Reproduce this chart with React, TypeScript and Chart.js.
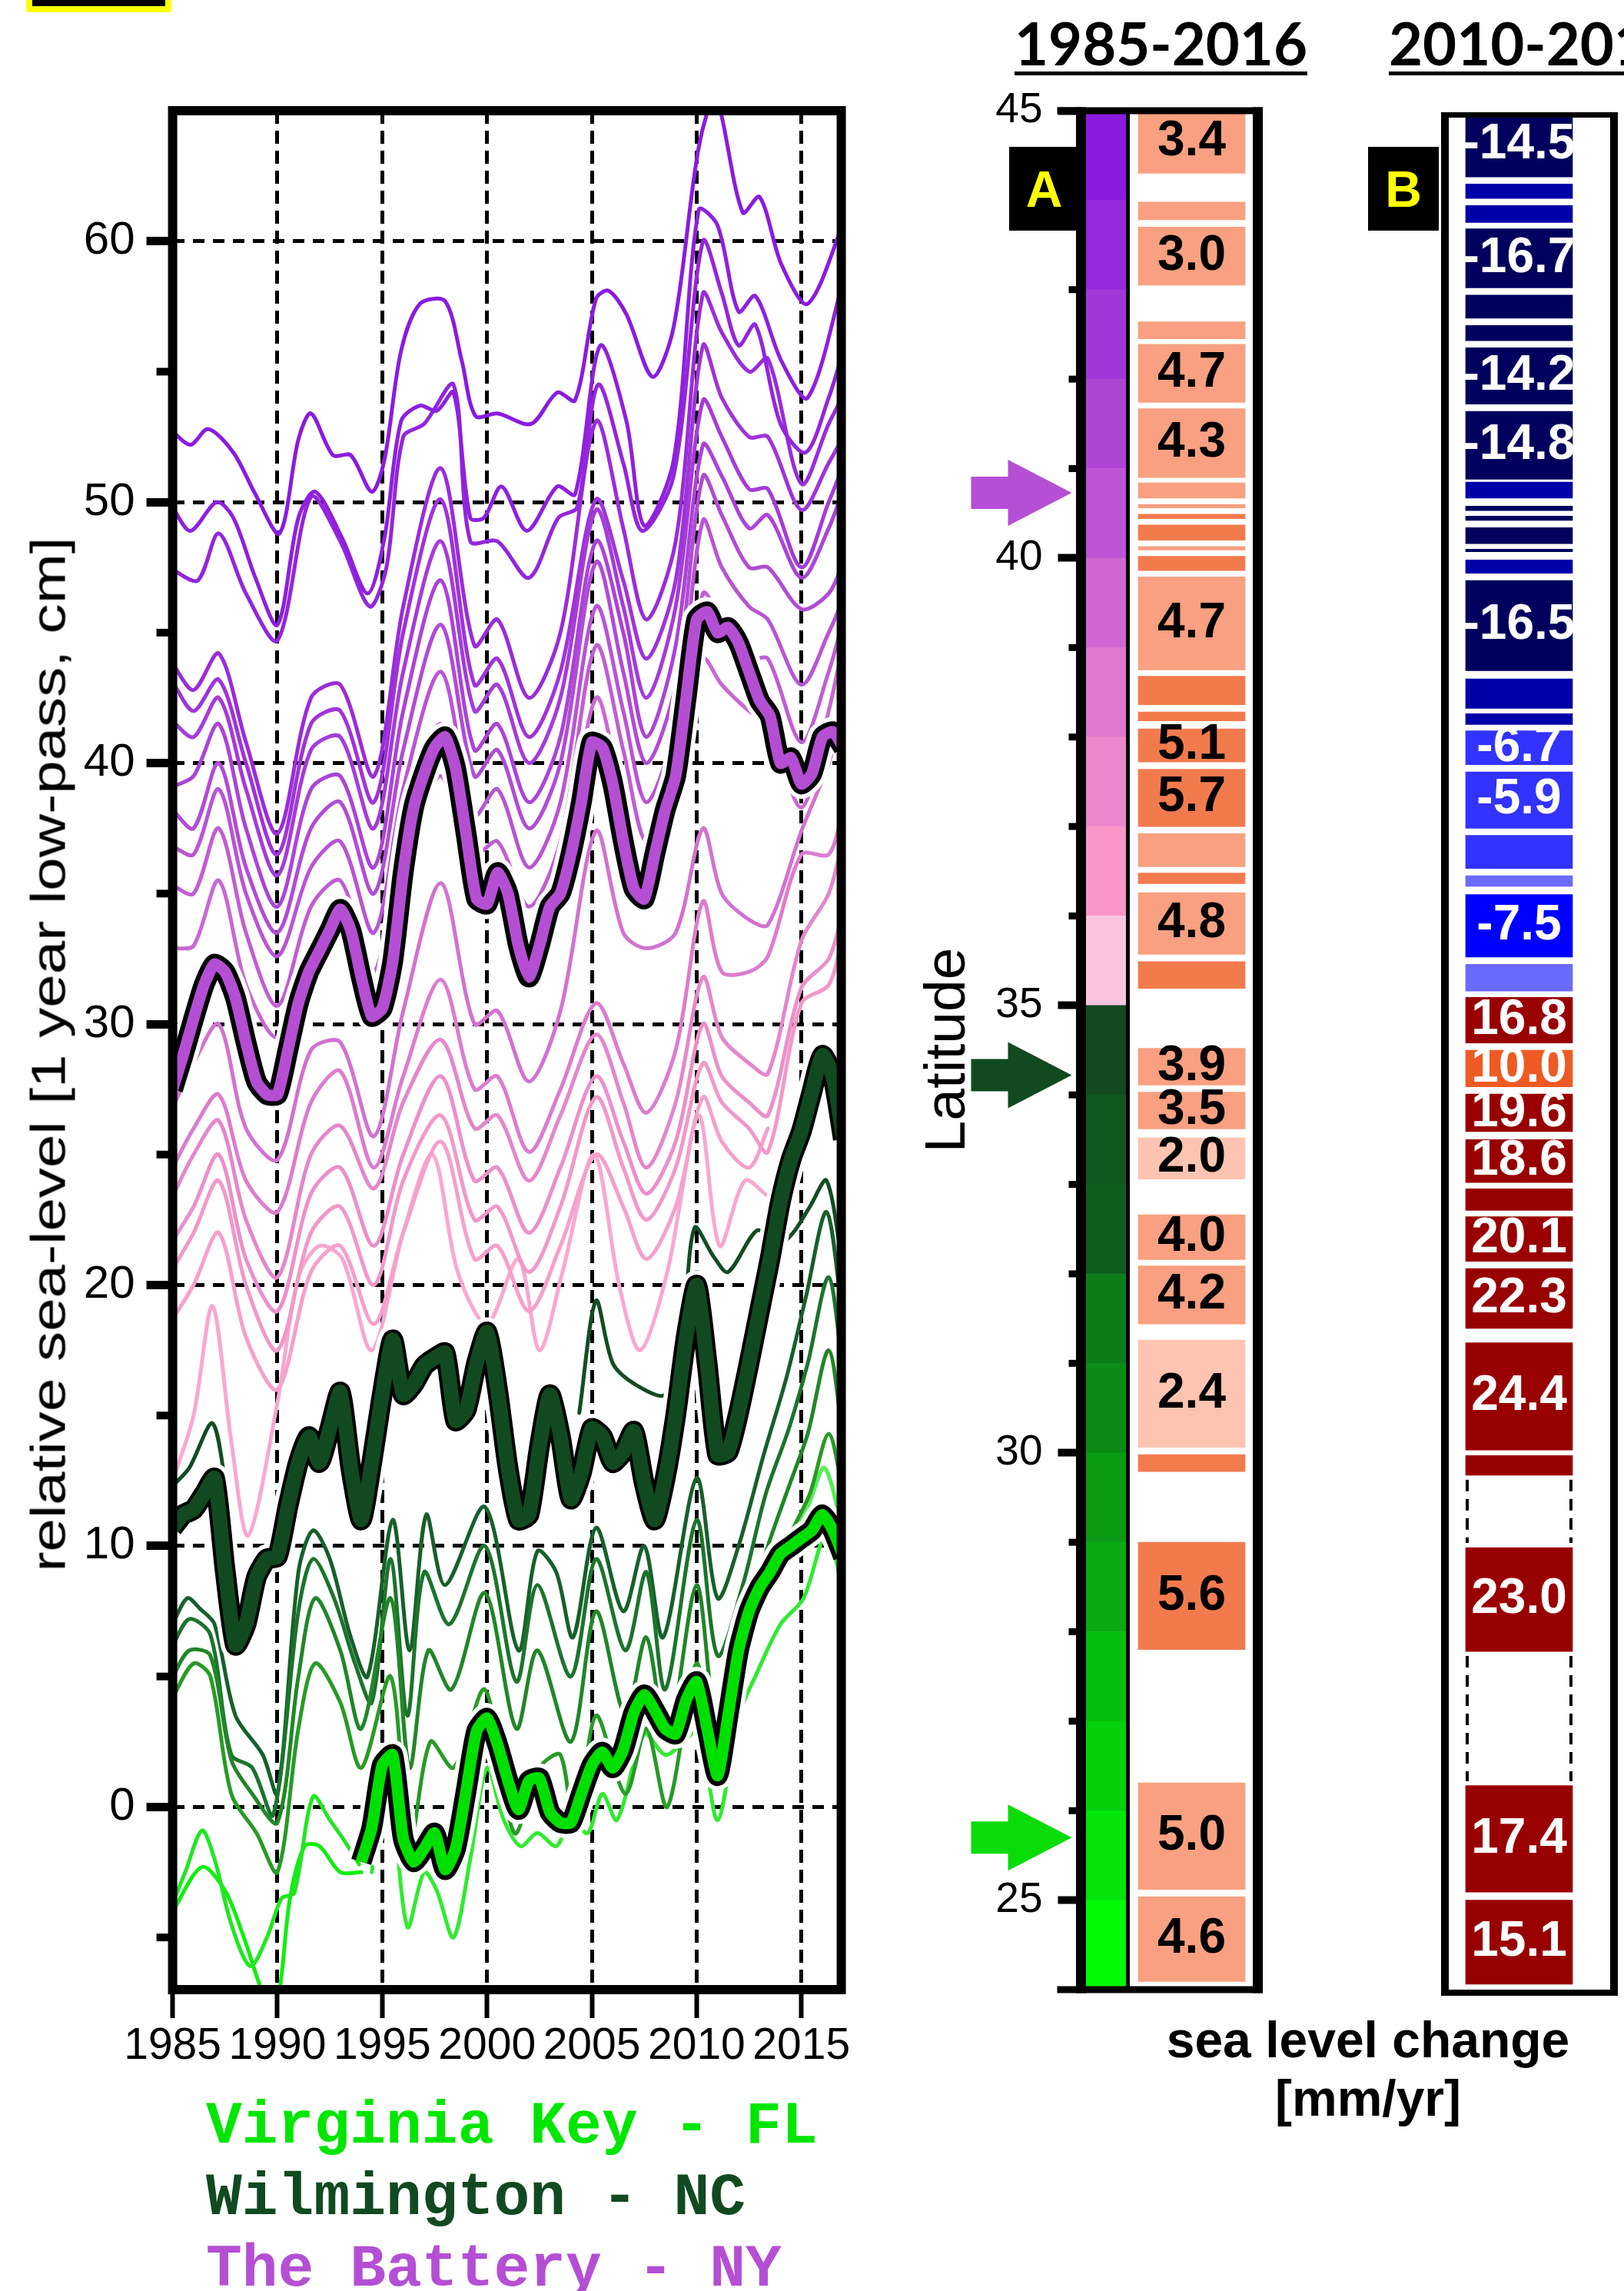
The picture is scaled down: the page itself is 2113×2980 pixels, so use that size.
import React, { useEffect, useRef } from 'react';
import { Chart, registerables } from 'chart.js';

Chart.register(...registerables);

const FONT = '"Liberation Sans", Arial, Helvetica, sans-serif';
Chart.defaults.font.family = FONT;

/* ================= Left panel: relative sea level [1 year low-pass, cm] ================= */
const xMin = 1985;
const xMax = 2016.9;
const yMin = -7;
const yMax = 65;
const xTickYears = [1985, 1990, 1995, 2000, 2005, 2010, 2015];
const yTickValues = [0, 10, 20, 30, 40, 50, 60];
const yMinorTicks = [-5, 5, 15, 25, 35, 45, 55];

const halfYears = [1985, 1985.5, 1986, 1986.5, 1987, 1987.5, 1988, 1988.5, 1989, 1989.5,
  1990, 1990.5, 1991, 1991.5, 1992, 1992.5, 1993, 1993.5, 1994, 1994.5,
  1995, 1995.5, 1996, 1996.5, 1997, 1997.5, 1998, 1998.5, 1999, 1999.5,
  2000, 2000.5, 2001, 2001.5, 2002, 2002.5, 2003, 2003.5, 2004, 2004.5,
  2005, 2005.5, 2006, 2006.5, 2007, 2007.5, 2008, 2008.5, 2009, 2009.5,
  2010, 2010.5, 2011, 2011.5, 2012, 2012.5, 2013, 2013.5, 2014, 2014.5,
  2015, 2015.5, 2016, 2016.5, 2017];

const batteryNY = [27.5, 28.8, 30.2, 31.5, 32.3, 32.0, 31.0, 29.3, 27.8, 27.3,
  27.3, 29.0, 30.8, 32.0, 32.8, 33.6, 34.4, 33.6, 31.8, 30.3,
  30.6, 32.4, 35.8, 38.3, 39.6, 40.6, 41.0, 39.8, 37.3, 34.8,
  34.6, 35.8, 35.0, 33.0, 31.8, 33.0, 34.5, 35.0, 36.5, 38.5,
  40.8, 40.6, 39.2, 37.0, 35.2, 34.8, 36.5, 38.2, 39.5, 42.5,
  45.5, 45.8, 45.0, 45.2, 44.6, 43.5, 42.4, 41.8, 40.0, 40.2,
  39.2, 39.6, 41.0, 41.2, 40.6];

const wilmingtonNC = [10.7, 11.2, 11.4, 12.0, 12.6, 9.1, 6.2, 7.0, 8.8, 9.5,
  9.6, 11.5, 13.2, 14.2, 13.2, 14.5, 15.9, 13.0, 11.0, 13.2,
  15.8, 17.9, 15.8, 16.2, 16.9, 17.2, 17.4, 14.8, 15.2, 17.0,
  18.2, 16.0, 13.0, 11.0, 11.2, 13.8, 15.8, 14.2, 11.8, 12.8,
  14.5, 14.2, 13.2, 13.6, 14.4, 12.4, 11.0, 12.6, 15.0, 18.0,
  20.0, 17.0, 13.5, 13.6, 15.1, 17.0, 19.0, 21.0, 23.2, 24.8,
  25.9, 27.4, 28.8, 28.0, 25.6];

const virginiaKeyFL = [null, null, null, null, null, null, null, null, null, null,
  null, null, null, null, null, null, null, null, -2.1, -0.8,
  1.6, 2.0, -1.2, -2.1, -1.6, -1.0, -2.4, -1.6, 0.6, 2.9,
  3.4, 2.4, 1.0, -0.1, 1.0, 1.1, -0.2, -0.6, -0.6, 0.5,
  1.6, 2.1, 1.5, 2.2, 3.6, 4.3, 3.7, 3.0, 2.8, 4.1,
  4.8, 3.0, 1.2, 3.5, 6.0, 7.5, 8.4, 9.0, 9.7, 10.0,
  10.3, 10.6, 11.2, 10.6, 9.6];

// other stations (thin lines), northern -> southern
const p1 = [[1985, 52.7], [1985.85, 52.2], [1986.7, 52.8], [1987.9, 51.9], [1988.95, 50.3], [1990.1, 48.8], [1991, 52.4], [1991.6, 53.4], [1992.65, 51.8], [1993.5, 51.8], [1994.5, 50.4], [1995.1, 51.6], [1995.9, 55.8], [1996.8, 57.6], [1998, 57.7], [1998.8, 55.4], [1999.45, 53.3], [2000.5, 53.4], [2002.1, 53.0], [2003.35, 54.2], [2004.2, 53.9], [2005.2, 57.8], [2005.8, 58.1], [2006.65, 57.2], [2007.9, 54.8], [2008.9, 56.7], [2010.1, 63.6], [2010.9, 65.5], [2012.2, 61.1], [2013, 61.7], [2014.05, 59.1], [2015.3, 57.6], [2017.1, 60.9]];
const p2 = [[1985, 49.8], [1985.85, 48.9], [1987.1, 50.0], [1987.9, 49.4], [1988.95, 47.1], [1990, 45.3], [1991, 49.4], [1991.8, 50.4], [1993.1, 48.6], [1994.3, 46.5], [1995.1, 48.6], [1995.9, 53.1], [1996.8, 53.7], [1997.6, 53.5], [1998.4, 54.2], [1999.2, 49.4], [1999.85, 49.4], [2000.7, 50.6], [2001.9, 48.9], [2003.35, 50.6], [2004.2, 50.3], [2005.4, 56.0], [2006.65, 53.1], [2007.5, 49.1], [2008.9, 51.6], [2010.1, 61.2], [2011, 60.6], [2012, 57.3], [2012.8, 57.9], [2014.05, 55.4], [2015.3, 54.0], [2017.1, 58.8]];
const p3 = [[1985, 47.4], [1986.2, 47.0], [1987.2, 48.8], [1988.5, 46.5], [1990, 44.7], [1991.6, 50.2], [1993, 48.5], [1994.4, 46.0], [1995.2, 47.5], [1996, 52.5], [1997, 53.0], [1998.4, 54.5], [1999.2, 48.5], [2000.5, 48.5], [2002, 47.1], [2003.4, 49.4], [2004.3, 49.8], [2005.3, 54.5], [2006.5, 51.5], [2007.4, 48.9], [2008.9, 51.0], [2010.3, 60.0], [2011.2, 58.0], [2012, 56.0], [2012.8, 56.8], [2014, 53.0], [2015.2, 51.9], [2016.3, 54.0], [2017, 55.8]];

const keyYears = [1985, 1986, 1987.2, 1988.5, 1990, 1991.6, 1993, 1994.6, 1996, 1997.8, 1999.4, 2000.5, 2002, 2003.5, 2005.2, 2006.5, 2007.6, 2009, 2010.3, 2011.2, 2012.5, 2013.4, 2015, 2016.3, 2017];
const l4 = [43.8, 42.8, 44.2, 40.8, 37.3, 42.5, 43.0, 39.5, 46.0, 51.3, 44.5, 45.5, 42.5, 45.0, 53.1, 49.0, 45.5, 48.5, 58.0, 56.5, 55.0, 55.5, 50.7, 53.0, 54.1];
const l5 = [43.1, 42.0, 43.2, 40.0, 36.5, 41.5, 42.0, 38.5, 45.0, 50.1, 43.0, 44.0, 41.0, 43.5, 50.1, 47.0, 44.0, 47.0, 56.0, 54.0, 52.5, 52.5, 49.7, 51.5, 52.5];
const l6 = [41.6, 41.0, 42.5, 39.0, 35.7, 40.5, 41.0, 37.5, 43.5, 48.5, 42.0, 43.0, 40.0, 42.5, 49.7, 46.0, 42.5, 46.0, 53.9, 52.5, 50.5, 50.5, 47.5, 50.0, 51.4];
const l7 = [39.1, 39.5, 41.5, 37.5, 34.5, 39.0, 39.5, 36.0, 42.0, 47.0, 40.5, 41.5, 38.5, 41.0, 48.5, 45.0, 41.0, 44.5, 52.2, 51.0, 49.0, 49.5, 47.1, 49.0, 50.5];
const l8 = [38.2, 37.5, 40.0, 36.0, 33.5, 37.5, 38.5, 35.0, 40.5, 45.3, 39.5, 40.5, 37.5, 40.0, 47.7, 43.5, 40.0, 43.0, 51.0, 49.5, 47.5, 47.5, 45.9, 46.5, 47.7];
const l9 = [36.8, 36.5, 39.0, 35.0, 32.6, 36.0, 37.0, 33.5, 39.0, 43.5, 38.0, 39.0, 36.0, 38.5, 46.0, 42.0, 38.5, 41.5, 49.3, 47.5, 46.0, 45.5, 43.0, 45.0, 46.3];
const l10 = [35.3, 35.0, 37.5, 33.5, 30.7, 34.5, 35.5, 32.0, 37.5, 41.5, 36.5, 37.0, 34.5, 37.0, 44.5, 40.5, 37.0, 40.0, 46.5, 45.5, 44.0, 44.0, 40.8, 43.5, 45.5];
const l11 = [32.9, 33.0, 35.5, 31.5, 29.5, 33.0, 34.0, 30.5, 35.5, 39.5, 34.5, 35.0, 32.0, 35.0, 42.5, 38.5, 35.5, 38.5, 44.0, 43.0, 42.0, 41.5, 38.3, 42.0, 44.6];
const l12 = [26.8, 28.5, 30.0, 26.0, 24.8, 29.0, 29.3, 25.7, 30.5, 35.4, 30.0, 30.5, 27.8, 30.5, 37.4, 33.5, 32.9, 33.5, 37.5, 35.0, 34.0, 33.8, 37.4, 40.0, 42.2];
const l13 = [24.5, 26.0, 27.3, 24.0, 22.8, 27.0, 28.2, 24.5, 28.0, 31.7, 27.5, 28.0, 25.1, 27.5, 30.8, 28.5, 26.6, 29.0, 34.7, 32.0, 32.0, 32.6, 36.5, 36.5, 38.3];
const l14 = [23.4, 25.0, 26.3, 22.5, 20.3, 25.0, 26.1, 23.7, 27.0, 29.4, 26.0, 26.5, 24.0, 26.5, 29.6, 27.0, 24.5, 27.0, 31.8, 29.5, 28.5, 28.1, 33.2, 35.0, 37.1];
const l15 = [21.7, 23.0, 25.0, 21.0, 19.0, 23.5, 24.5, 21.5, 25.0, 28.0, 24.0, 24.5, 22.0, 24.5, 28.0, 25.5, 23.5, 25.5, 30.0, 28.0, 27.0, 26.5, 31.4, 32.5, 34.4];
const l16 = [20.6, 22.0, 24.0, 20.0, 17.5, 22.0, 23.0, 20.0, 24.0, 26.5, 22.5, 23.0, 20.5, 23.0, 27.2, 24.5, 22.5, 24.5, 28.5, 27.0, 26.0, 25.1, 30.8, 31.5, 33.5];
const l17 = [18.7, 20.0, 22.0, 18.0, 16.0, 20.5, 21.5, 18.5, 22.0, 25.5, 21.0, 21.5, 19.0, 21.5, 25.0, 23.0, 21.0, 23.0, 27.2, 25.5, 24.5, 26.0, null, null, null];
const l18 = [[1985, 12.5], [1986, 15.0], [1986.9, 19.2], [1987.8, 14.0], [1988.6, 10.4], [1990, 15.5], [1991, 20.3], [1992, 21.5], [1993.1, 21.0], [1994.5, 17.5], [1996, 22.0], [1997.4, 25.0], [1998.6, 20.5], [2000, 18.5], [2001.5, 21.0], [2002.5, 17.5], [2003.6, 20.5], [2005.1, 25.0], [2006.3, 20.0], [2007.3, 17.5], [2008.6, 20.5], [2010.1, 26.5], [2011.1, 21.5], [2012.3, 24.0], [2013.4, 23.4]];

const g1 = [[1985, 12.3], [1985.8, 13.0], [1986.9, 14.7], [1987.6, 12.0], [1988, null], [2004.4, 15.1], [2005.2, 19.4], [2006, 17.0], [2007.05, 16.2], [2008.5, 15.8], [2009.3, 18.0], [2009.9, 22.2], [2010.8, 21.1], [2011.5, 20.5], [2012.9, 22.1], [2013.8, 21.5], [2014.6, 22.0], [2015.4, 23.0], [2016.2, 24.0], [2017, 20.5]];
const g2 = [[1985, 7.0], [1985.7, 8.0], [1986.3, 7.6], [1987, 7.0], [1988, 3.5], [1989.3, 2.0], [1990, 0.5], [1991, 9.0], [1991.7, 10.6], [1992.5, 9.5], [1993.5, 6.5], [1994.3, 5.0], [1995.5, 11.0], [1996.3, 6.0], [1997.1, 11.2], [1998, 8.5], [1999.9, 11.5], [2001.5, 6.0], [2002.4, 9.8], [2003.3, 9.0], [2004.1, 6.5], [2005.2, 10.7], [2006.5, 7.5], [2007.5, 10.0], [2008.4, 6.5], [2010, 12.6], [2011, 8.0], [2012, 10.0], [2013.2, 13.5], [2014.3, 16.5], [2015.2, 19.5], [2016.2, 22.8], [2017, 18.5]];
const g3 = [[1985, 6.2], [1985.8, 7.2], [1986.8, 6.6], [1987.8, 2.0], [1988.8, 1.5], [1989.8, -0.3], [1991, 7.5], [1991.7, 9.5], [1992.7, 8.0], [1993.7, 5.5], [1994.5, 4.0], [1995.4, 9.5], [1996.2, 3.5], [1997, 9.0], [1998.2, 7.0], [1999.9, 10.0], [2001.4, 4.8], [2002.4, 8.5], [2004, 5.0], [2005.2, 9.5], [2006.6, 6.0], [2007.6, 9.0], [2008.5, 4.5], [2010, 11.0], [2011, 5.8], [2012.2, 8.5], [2013.3, 12.0], [2014.4, 14.5], [2015.3, 17.0], [2016.3, 20.3], [2017, 16.5]];
const g4 = [[1985, 5.0], [1985.8, 6.0], [1986.8, 5.8], [1987.8, 1.8], [1988.8, 0.5], [1990, -0.6], [1991, 5.0], [1991.8, 8.0], [1993, 6.0], [1994, 3.0], [1995.4, 8.0], [1996.3, 1.5], [1997.2, 6.0], [1998.3, 4.5], [1999.9, 8.2], [2001.4, 3.0], [2002.4, 6.0], [2004, 2.5], [2005.2, 7.5], [2006.6, 3.5], [2007.6, 6.5], [2008.6, 2.5], [2010, 8.5], [2011, 3.0], [2012.3, 7.0], [2013.4, 10.0], [2014.5, 12.5], [2015.3, 14.3], [2016.3, 17.5], [2017, 14.0]];
const g5 = [[1985, 4.2], [1986, 5.5], [1986.8, 5.0], [1987.8, 0.5], [1989, -1.0], [1990, -2.5], [1991, 3.0], [1991.8, 5.5], [1993, 4.0], [1994, 1.5], [1995.4, 5.0], [1996.3, -1.5], [1997.3, 2.5], [1998.4, 1.5], [1999.9, 4.5], [2001.3, -1.0], [2002.5, 1.5], [2003.5, 2.0], [2004.2, -1.0], [2005.2, 3.5], [2006.6, 0.5], [2007.6, 3.0], [2008.6, 0.0], [2010, 5.5], [2011, 1.0], [2012.3, 5.5], [2013.5, 8.5], [2014.5, 10.5], [2015.4, 12.0], [2016.3, 14.3], [2017, 12.0]];
const lg1 = [[1985, -3.7], [1985.6, -2.5], [1986.4, -0.9], [1987, -2.0], [1987.8, -4.5], [1988.7, -6.1], [1989.5, -5.0], [1990.2, -3.5], [1990.8, -3.3], [1991.7, 0.4], [1992.5, -0.5], [1993.2, -1.3], [1993.9, -2.2]];
const lg2 = [[1985, -4.0], [1986.4, -2.3], [1987.5, -3.2], [1988.4, -5.0], [1989.5, -7.5], [1990, -7.5], [1990.6, -3.5], [1991.3, -1.5], [1992, -1.5], [1993, -2.5], [1994, -2.5]];
const lg3 = [[1994.5, -2.5], [1995.3, 1.0], [1996.2, -4.6], [1997, -2.5], [1997.6, -3.2], [1998.4, -5.0], [1999.2, -2.0], [2000, 1.5], [2000.8, -0.5], [2001.6, -1.5], [2002.4, -1.0], [2003.3, -1.5], [2004, -0.5], [2004.8, -1.0], [2005.5, 0.5], [2006.2, -0.5], [2007.5, 2.8], [2008.5, 2.0], [2009.4, 2.5], [2010.1, 3.0], [2011, -0.5], [2012, 3.5], [2012.8, 5.0], [2014, 7.0], [2015.1, 8.0], [2016.2, 10.5], [2017, 8.2]];
const lg4 = [[2011.5, 4.0], [2012.5, 7.5], [2013.5, 9.5], [2014.5, 10.5], [2015.3, 11.5], [2016.1, 13.0], [2017, 10.5]];

/* ================= Panel A: 1985-2016 rates by latitude ================= */
const latMin = 24;
const latMax = 45;
const latTicks = [25, 30, 35, 40, 45];
const latMinorTicks = [26, 27, 28, 29, 31, 32, 33, 34, 36, 37, 38, 39, 41, 42, 43, 44];
const stripHi = [45, 44, 43, 42, 41, 40, 39, 38, 37, 36, 35, 34, 33, 32, 31, 30, 29, 28, 27, 26, 25];
const stripLo = [44, 43, 42, 41, 40, 39, 38, 37, 36, 35, 34, 33, 32, 31, 30, 29, 28, 27, 26, 25, 24];
const stripColors = ['#8A1BDD', '#9629DB', '#A236D8', '#AE44D6', '#BB53D4', '#CE67D4', '#DD77D0', '#EB87CB', '#F996C8', '#FAC4E1',
  '#114A20', '#0F561F', '#0E5E1E', '#0D7D19', '#0C8B17', '#0A9A14', '#08AA11', '#06BE0E', '#04D00C', '#02E40A', '#00FA06'];

const aLo = [44.30, 43.78, 43.05, 42.45, 41.74, 40.90, 40.67, 40.56, 40.44, 40.20, 40.09, 39.86, 38.75, 38.36, 38.18, 37.72, 37.00, 36.55, 36.36, 35.57, 35.19, 34.11, 33.62, 33.06, 32.16, 31.44, 30.06, 29.79, 27.80, 25.12, 24.09];
const aHi = [45.00, 43.98, 43.70, 42.64, 42.39, 41.67, 40.84, 40.60, 40.49, 40.37, 40.13, 40.02, 39.79, 38.68, 38.28, 38.09, 37.64, 36.92, 36.48, 36.26, 35.49, 34.52, 34.03, 33.52, 32.66, 32.09, 31.26, 29.98, 29.00, 26.31, 25.04];
const aLabels = ['3.4', '', '3.0', '', '4.7', '4.3', '', '', '', '', '', '', '4.7', '', '', '5.1', '5.7', '', '', '4.8', '', '3.9', '3.5', '2.0', '4.0', '4.2', '2.4', '', '5.6', '5.0', '4.6'];
const aShade = ['L', 'L', 'L', 'L', 'L', 'L', 'L', 'L', 'D', 'D', 'L', 'D', 'L', 'D', 'D', 'D', 'D', 'L', 'D', 'L', 'D', 'L', 'L', 'P', 'L', 'L', 'P', 'D', 'D', 'L', 'L'];
const shadeA = { L: '#F8A081', D: '#F27B4E', P: '#FDC4B1' };

const arrowLats = [40.73, 34.22, 25.7];
const arrowColors = ['#B54FD6', '#114A20', '#0ADC0A'];

/* ================= Panel B: 2010-2016 rates by latitude ================= */
const bLo = [44.26, 44.02, 43.75, 43.02, 42.68, 42.43, 41.72, 40.88, 40.67, 40.53, 40.42, 40.16, 40.07, 39.83, 38.74, 38.32, 38.14, 37.69, 36.98, 36.53, 36.33, 35.54, 35.16, 34.58, 34.09, 33.59, 33.02, 32.71, 32.14, 31.39, 30.03, 29.75, 27.78, 25.09, 24.06];
const bHi = [44.97, 44.18, 43.94, 43.68, 42.94, 42.60, 42.35, 41.64, 40.85, 40.58, 40.47, 40.34, 40.10, 39.98, 39.75, 38.65, 38.26, 38.07, 37.61, 36.90, 36.45, 36.24, 35.46, 35.09, 34.50, 34.01, 33.50, 32.95, 32.64, 32.06, 31.23, 29.97, 28.94, 26.28, 25.00];
const bLabels = ['-14.5', '', '', '-16.7', '', '', '-14.2', '-14.8', '', '', '', '', '', '', '-16.5', '', '', '-6.7', '-5.9', '', '', '-7.5', '', '16.8', '10.0', '19.6', '18.6', '', '20.1', '22.3', '24.4', '', '23.0', '17.4', '15.1'];
const bShade = ['N', 'M', 'M', 'N', 'N', 'N', 'N', 'N', 'M', 'N', 'N', 'N', 'N', 'M', 'N', 'M', 'M', 'B', 'B', 'B', 'LB', 'PB', 'LB', 'R', 'O', 'R', 'R', 'R', 'R', 'R', 'R', 'R', 'R', 'R', 'R'];
const shadeB = { N: '#00005E', M: '#0000A8', B: '#3333FF', LB: '#6A6AFF', PB: '#0000FF', R: '#990000', O: '#EE5A24' };
const bGapLo = [28.94, 26.28];
const bGapHi = [29.75, 27.78];

/* layout constants (column positions inside the latitude panels, 0..1 of plot width) */
const STRIP_X = 0.1413;
const RATE_X = 0.6261;
const B_X = 0.4386;

/* ================= helpers ================= */
const toPts = (arr) => arr.map(([x, y]) => ({ x, y }));
const onKeys = (vals) => keyYears.map((x, i) => ({ x, y: vals[i] }));

const thinLines = [
  { pts: toPts(p1), color: '#8A1BE0' },
  { pts: toPts(p2), color: '#8E20DE' },
  { pts: toPts(p3), color: '#9326DC' },
  { pts: onKeys(l4), color: '#992DDA' },
  { pts: onKeys(l5), color: '#9F34D9' },
  { pts: onKeys(l6), color: '#A53CD8' },
  { pts: onKeys(l7), color: '#AB44D7' },
  { pts: onKeys(l8), color: '#B14CD5' },
  { pts: onKeys(l9), color: '#B855D4' },
  { pts: onKeys(l10), color: '#C05ED3' },
  { pts: onKeys(l11), color: '#C868D2' },
  { pts: onKeys(l12), color: '#D272D0' },
  { pts: onKeys(l13), color: '#DC7CCE' },
  { pts: onKeys(l14), color: '#E486CC' },
  { pts: onKeys(l15), color: '#EC8FCA' },
  { pts: onKeys(l16), color: '#F298C8' },
  { pts: onKeys(l17), color: '#F6A0CA' },
  { pts: toPts(l18), color: '#F8A8D0' },
  { pts: toPts(g5), color: '#289A26' },
  { pts: toPts(g4), color: '#218628' },
  { pts: toPts(g3), color: '#1C742C' },
  { pts: toPts(g2), color: '#17602A' },
  { pts: toPts(g1), color: '#134D24' },
  { pts: toPts(lg1), color: '#22E622' },
  { pts: toPts(lg2), color: '#10EE10' },
  { pts: toPts(lg3), color: '#30EA30' },
  { pts: toPts(lg4), color: '#55EE55' },
];

const highlights = [
  { vals: batteryNY, color: '#B44FD4', inner: 15 },
  { vals: wilmingtonNC, color: '#114A20', inner: 19 },
  { vals: virginiaKeyFL, color: '#00E000', inner: 15 },
];

const leftPlugin = {
  id: 'leftFrame',
  afterDraw(chart) {
    const { ctx, chartArea: ca } = chart;
    const y = chart.scales.y;
    ctx.save();
    ctx.fillStyle = '#000';
    yMinorTicks.forEach((v) => {
      const py = y.getPixelForValue(v);
      ctx.fillRect(ca.left - 21, py - 5, 21, 10);
    });
    ctx.strokeStyle = '#000';
    ctx.lineWidth = 12;
    ctx.strokeRect(ca.left, ca.top, ca.right - ca.left, ca.bottom - ca.top);
    ctx.restore();
  },
};

function drawArrow(ctx, tipX, y, color) {
  ctx.fillStyle = color;
  ctx.beginPath();
  ctx.moveTo(tipX - 131, y - 21);
  ctx.lineTo(tipX - 83, y - 21);
  ctx.lineTo(tipX - 83, y - 43);
  ctx.lineTo(tipX, y);
  ctx.lineTo(tipX - 83, y + 43);
  ctx.lineTo(tipX - 83, y + 21);
  ctx.lineTo(tipX - 131, y + 21);
  ctx.closePath();
  ctx.fill();
}

const panelAPlugin = {
  id: 'panelA',
  afterDraw(chart) {
    const { ctx, chartArea: ca } = chart;
    const y = chart.scales.y;
    const strip = chart.getDatasetMeta(0).data[0];
    const sepX = strip.x + strip.width / 2 + 2.5;
    ctx.save();
    ctx.fillStyle = '#000';
    latMinorTicks.forEach((v) => {
      const py = y.getPixelForValue(v);
      ctx.fillRect(ca.left - 16, py - 4.5, 16, 9);
    });
    ctx.fillRect(ca.left - 6.5, ca.top - 4.5, 13, ca.bottom - ca.top + 9);
    ctx.fillRect(ca.right - 6.5, ca.top - 4.5, 13, ca.bottom - ca.top + 9);
    ctx.fillRect(ca.left - 31, ca.top - 4.5, ca.right - ca.left + 37.5, 9);
    ctx.fillRect(ca.left - 31, ca.bottom - 4.5, ca.right - ca.left + 37.5, 9);
    ctx.fillRect(sepX - 2.5, ca.top, 5, ca.bottom - ca.top);
    const meta = chart.getDatasetMeta(1);
    ctx.font = `bold 64px ${FONT}`;
    ctx.textAlign = 'center';
    ctx.textBaseline = 'middle';
    ctx.fillStyle = '#000';
    meta.data.forEach((el, i) => {
      if (aLabels[i]) ctx.fillText(aLabels[i], el.x, (el.y + el.base) / 2);
    });
    arrowLats.forEach((lat, i) => drawArrow(ctx, ca.left - 12, y.getPixelForValue(lat), arrowColors[i]));
    ctx.restore();
  },
};

const panelBPlugin = {
  id: 'panelB',
  afterDraw(chart) {
    const { ctx, chartArea: ca } = chart;
    const y = chart.scales.y;
    const meta = chart.getDatasetMeta(0);
    const el0 = meta.data[0];
    ctx.save();
    ctx.fillStyle = '#000';
    ctx.fillRect(ca.left - 5, ca.top + 2, 10, ca.bottom - ca.top + 5);
    ctx.fillRect(ca.right - 5, ca.top + 2, 10, ca.bottom - ca.top + 5);
    ctx.fillRect(ca.left - 5, ca.top + 2, ca.right - ca.left + 10, 7);
    ctx.fillRect(ca.left - 5, ca.bottom, ca.right - ca.left + 10, 8);
    ctx.strokeStyle = '#000';
    ctx.lineWidth = 4;
    ctx.setLineDash([15, 10]);
    bGapLo.forEach((lo, i) => {
      const yTop = y.getPixelForValue(bGapHi[i]) + 6;
      const yBot = y.getPixelForValue(lo) - 6;
      [el0.x - el0.width / 2 + 2, el0.x + el0.width / 2 - 2].forEach((px) => {
        ctx.beginPath();
        ctx.moveTo(px, yTop);
        ctx.lineTo(px, yBot);
        ctx.stroke();
      });
    });
    ctx.setLineDash([]);
    ctx.font = `bold 64px ${FONT}`;
    ctx.textAlign = 'center';
    ctx.textBaseline = 'middle';
    ctx.fillStyle = '#FFFFFF';
    meta.data.forEach((el, i) => {
      if (bLabels[i]) ctx.fillText(bLabels[i], el.x, (el.y + el.base) / 2);
    });
    ctx.restore();
  },
};

function buildLeft(canvas) {
  const datasets = [];
  thinLines.forEach((l) => {
    datasets.push({
      data: l.pts, borderColor: l.color, borderWidth: 5, pointRadius: 0, tension: 0.3,
      order: 100, clip: 0, borderJoinStyle: 'round', borderCapStyle: 'round', fill: false,
    });
  });
  highlights.forEach((h) => {
    const layers = [
      { color: '#FFFFFF', w: 38, order: 30 },
      { color: '#000000', w: 27, order: 20 },
      { color: h.color, w: h.inner, order: 10 },
    ];
    layers.forEach((ly) => {
      datasets.push({
        data: halfYears.map((x, i) => ({ x, y: h.vals[i] })),
        borderColor: ly.color, borderWidth: ly.w, pointRadius: 0, tension: 0.2,
        order: ly.order, clip: 0, borderJoinStyle: 'round', borderCapStyle: 'butt', fill: false,
      });
    });
  });
  return new Chart(canvas, {
    type: 'line',
    data: { datasets },
    options: {
      animation: false,
      responsive: false,
      events: [],
      layout: { padding: { left: 0, right: 14, top: 144, bottom: 0 } },
      plugins: { legend: { display: false }, tooltip: { enabled: false } },
      scales: {
        x: {
          type: 'linear', min: xMin, max: xMax,
          afterFit: (s) => { s.height = 112; },
          afterBuildTicks: (s) => { s.ticks = xTickYears.map((v) => ({ value: v })); },
          ticks: { autoSkip: false, maxRotation: 0, minRotation: 0, font: { size: 57, family: FONT }, color: '#000', padding: 3, callback: (v) => String(v) },
          grid: { color: '#000', lineWidth: 5, tickLength: 37, tickWidth: 6, tickColor: '#000', tickBorderDash: [] },
          border: { display: false, dash: [17, 9] },
        },
        y: {
          type: 'linear', min: yMin, max: yMax,
          afterFit: (s) => { s.width = 224.6; },
          afterBuildTicks: (s) => { s.ticks = yTickValues.map((v) => ({ value: v })); },
          ticks: { autoSkip: false, font: { size: 60, family: FONT }, color: '#000', padding: 15, callback: (v) => String(v) },
          grid: { color: '#000', lineWidth: 5, tickLength: 34, tickWidth: 11, tickColor: '#000', tickBorderDash: [] },
          border: { display: false, dash: [15, 11] },
        },
      },
    },
    plugins: [leftPlugin],
  });
}

function buildA(canvas) {
  return new Chart(canvas, {
    type: 'bar',
    data: {
      datasets: [
        {
          label: 'latitude band',
          data: stripLo.map((lo, i) => ({ x: STRIP_X, y: [lo, stripHi[i]] })),
          backgroundColor: stripColors, barThickness: 52, stack: 's', borderWidth: 0,
        },
        {
          label: 'rate 1985-2016',
          data: aLo.map((lo, i) => ({ x: RATE_X, y: [lo, aHi[i]] })),
          backgroundColor: aShade.map((s) => shadeA[s]), barThickness: 139, stack: 's', borderWidth: 0,
        },
      ],
    },
    options: {
      animation: false,
      responsive: false,
      events: [],
      layout: { padding: { left: 0, right: 33.5, top: 144, bottom: 112 } },
      plugins: { legend: { display: false }, tooltip: { enabled: false } },
      scales: {
        x: { type: 'linear', min: 0, max: 1, display: false, stacked: true, offset: false },
        y: {
          type: 'linear', min: latMin, max: latMax, stacked: false,
          afterFit: (s) => { s.width = 256.5; },
          afterBuildTicks: (s) => { s.ticks = latTicks.map((v) => ({ value: v })); },
          ticks: { autoSkip: false, font: { size: 55, family: FONT }, color: '#000', padding: 20, callback: (v) => String(v) },
          grid: { drawOnChartArea: false, color: '#000', tickLength: 30, tickWidth: 10, tickColor: '#000' },
          border: { display: false },
          title: { display: true, text: 'Latitude', color: '#000', font: { size: 75, family: FONT }, padding: { top: 39, bottom: 0 } },
        },
      },
    },
    plugins: [panelAPlugin],
  });
}

function buildB(canvas) {
  return new Chart(canvas, {
    type: 'bar',
    data: {
      datasets: [
        {
          label: 'rate 2010-2016',
          data: bLo.map((lo, i) => ({ x: B_X, y: [lo, bHi[i]] })),
          backgroundColor: bShade.map((s) => shadeB[s]), barThickness: 139, stack: 's', borderWidth: 0,
        },
      ],
    },
    options: {
      animation: false,
      responsive: false,
      events: [],
      layout: { padding: { left: 180, right: 13, top: 144, bottom: 112 } },
      plugins: { legend: { display: false }, tooltip: { enabled: false } },
      scales: {
        x: { type: 'linear', min: 0, max: 1, display: false, stacked: true, offset: false },
        y: { type: 'linear', min: latMin, max: latMax, display: false, stacked: false },
      },
    },
    plugins: [panelBPlugin],
  });
}

const abs = (o) => ({ position: 'absolute', ...o });

export default function App() {
  const leftRef = useRef(null);
  const aRef = useRef(null);
  const bRef = useRef(null);

  useEffect(() => {
    const charts = [buildLeft(leftRef.current), buildA(aRef.current), buildB(bRef.current)];
    return () => charts.forEach((c) => c.destroy());
  }, []);

  return (
    <div style={abs({ left: 0, top: 0, width: 2113, height: 2980, overflow: 'hidden', background: '#fff' })}>
      <canvas ref={leftRef} width={1110} height={2700} style={abs({ left: 0, top: 0, width: 1110, height: 2700 })} />
      <canvas ref={aRef} width={520} height={2700} style={abs({ left: 1150, top: 0, width: 520, height: 2700 })} />
      <canvas ref={bRef} width={413} height={2700} style={abs({ left: 1700, top: 0, width: 413, height: 2700 })} />

      <div style={abs({ left: 34, top: -60, width: 189, height: 76, boxSizing: 'border-box', border: '8px solid #FFFF00', background: '#000', borderRadius: 4 })} />

      <div style={abs({ left: 58 - 650, top: 1371 - 31.5, width: 1300, height: 63, lineHeight: '63px', textAlign: 'center', whiteSpace: 'nowrap', font: `63px ${FONT}`, color: '#000', transform: 'rotate(-90deg) scaleX(1.24)', transformOrigin: '50% 50%' })}>
        relative sea-level [1 year low-pass, cm]
      </div>

      <div style={abs({ left: 1320, top: 10, whiteSpace: 'nowrap', font: 'bold 76px Lato, "Open Sans", sans-serif', lineHeight: '91px', color: '#000', textDecoration: 'underline', textDecorationThickness: '5px', textUnderlineOffset: '8px' })}>1985-2016</div>
      <div style={abs({ left: 1807, top: 10, whiteSpace: 'nowrap', font: 'bold 76px Lato, "Open Sans", sans-serif', lineHeight: '91px', color: '#000', textDecoration: 'underline', textDecorationThickness: '5px', textUnderlineOffset: '8px' })}>2010-2016</div>

      <div style={abs({ left: 1313, top: 191, width: 91, height: 109, background: '#000', color: '#FFFF00', font: `bold 66px ${FONT}`, display: 'flex', alignItems: 'center', justifyContent: 'center' })}>A</div>
      <div style={abs({ left: 1780, top: 191, width: 92, height: 109, background: '#000', color: '#FFFF00', font: `bold 66px ${FONT}`, display: 'flex', alignItems: 'center', justifyContent: 'center' })}>B</div>

      <div style={abs({ left: 1480, top: 2615, width: 600, textAlign: 'center', font: `bold 66px ${FONT}`, lineHeight: '76px', color: '#000' })}>
        sea level change<br />[mm/yr]
      </div>

      <div style={abs({ left: 268, top: 2720, font: 'bold 78px "Liberation Mono", "Courier New", monospace', lineHeight: '93px', whiteSpace: 'pre' })}>
        <div style={{ color: '#00E600' }}>Virginia Key - FL</div>
        <div style={{ color: '#114A20' }}>Wilmington - NC</div>
        <div style={{ color: '#B44FD4' }}>The Battery - NY</div>
      </div>
    </div>
  );
}
